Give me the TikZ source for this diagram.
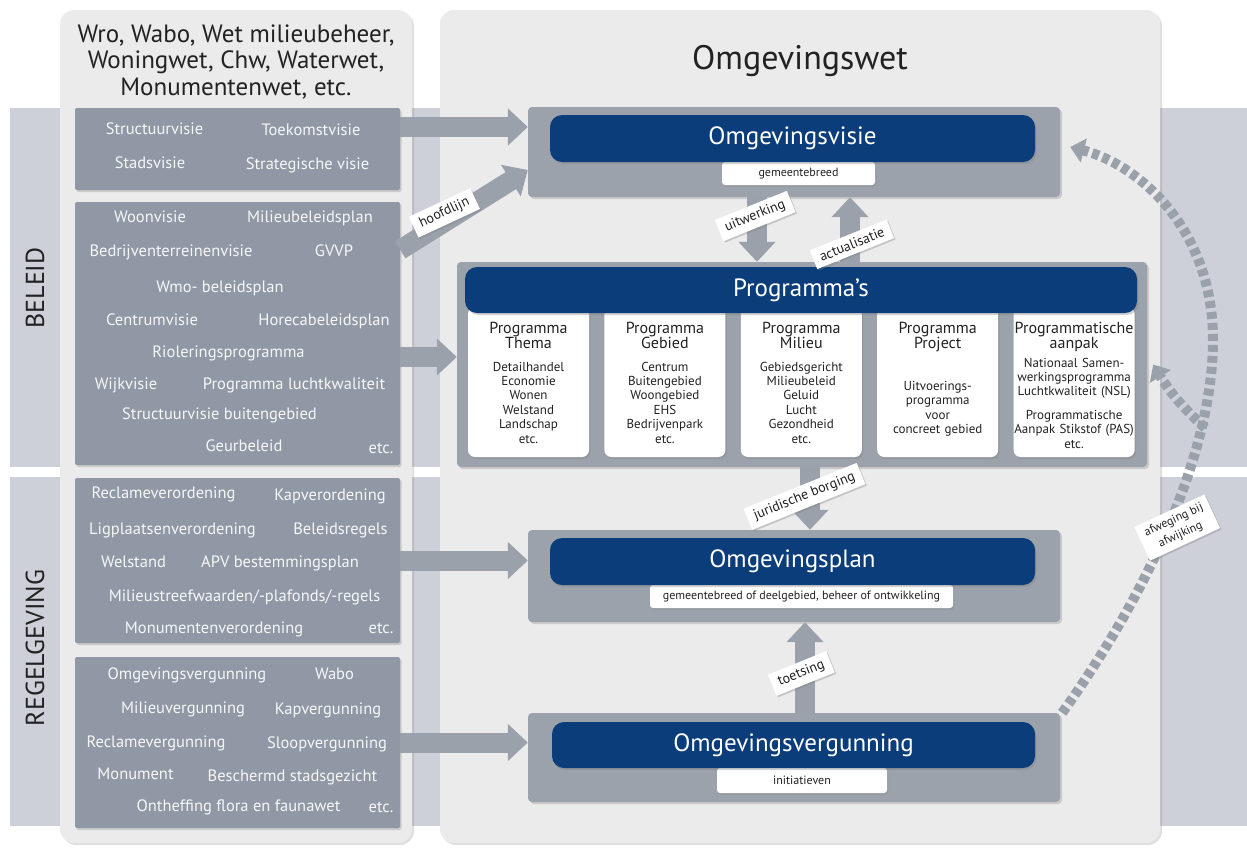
\documentclass[tikz,border=0pt]{standalone}
\usepackage{fontspec}
\setmainfont{PT Sans}
\usetikzlibrary{shapes.geometric, arrows.meta, positioning, shadows}
\definecolor{navy}{HTML}{0B3D7A}
\definecolor{blokgrijs}{HTML}{9BA2AC}
\definecolor{lijstgrijs}{HTML}{8F98A4}
\definecolor{paneelgrijs}{HTML}{EBEBEC}
\definecolor{bandgrijs}{HTML}{CDD0D8}
\definecolor{pijlgrijs}{HTML}{9AA1AA}
\definecolor{tekstgrijs}{HTML}{222222}
\tikzstyle{paneel} = [
    rectangle,
    rounded corners=14pt,
    fill=paneelgrijs,
    drop shadow={opacity=0.25, shadow xshift=2pt, shadow yshift=-2pt}
]
\tikzstyle{bandtekst} = [
    rotate=90,
    text=tekstgrijs,
    font=\fontsize{26}{30}\selectfont
]
\tikzstyle{titel} = [
    align=center,
    text=tekstgrijs,
    font=\fontsize{25}{26.5}\selectfont
]
\tikzstyle{lijst} = [
    rectangle,
    rounded corners=2pt,
    minimum width=325pt,
    fill=lijstgrijs,
    drop shadow={opacity=0.3, shadow xshift=1.5pt, shadow yshift=-2pt}
]
\tikzstyle{lijsttekst} = [
    inner sep=0pt,
    text height=12pt,
    text depth=3.5pt,
    text=white!92!lijstgrijs,
    font=\fontsize{16.5}{19}\selectfont
]
\tikzstyle{blok} = [
    rectangle,
    rounded corners=4pt,
    fill=blokgrijs,
    drop shadow={opacity=0.3, shadow xshift=2pt, shadow yshift=-2pt}
]
\tikzstyle{balk} = [
    rectangle,
    rounded corners=12pt,
    fill=navy,
    text=white,
    font=\fontsize{25}{29}\selectfont,
    drop shadow={opacity=0.35, shadow xshift=1.5pt, shadow yshift=-2pt}
]
\tikzstyle{etiket} = [
    rectangle,
    rounded corners=3pt,
    fill=white,
    inner sep=0pt,
    text=tekstgrijs,
    font=\fontsize{12}{14}\selectfont,
    drop shadow={opacity=0.3, shadow xshift=1pt, shadow yshift=-1.5pt}
]
\tikzstyle{kader} = [
    rectangle,
    rounded corners=7pt,
    fill=white,
    minimum width=121pt,
    minimum height=150pt,
    drop shadow={opacity=0.3, shadow xshift=1.5pt, shadow yshift=-2pt}
]
\tikzstyle{kop} = [
    align=center,
    inner sep=0pt,
    text=tekstgrijs,
    font=\fontsize{16}{15}\selectfont
]
\tikzstyle{items} = [
    align=center,
    inner sep=0pt,
    text width=120pt,
    text=tekstgrijs,
    font=\fontsize{13}{14.4}\selectfont
]
\tikzstyle{vlag} = [
    rectangle,
    fill=white,
    rotate=22,
    inner xsep=7pt,
    inner ysep=5pt,
    text=tekstgrijs,
    font=\fontsize{14}{16}\selectfont,
    drop shadow={opacity=0.35, shadow xshift=1.5pt, shadow yshift=-1.5pt}
]
\tikzstyle{pijl} = [line width=20pt, draw=pijlgrijs, -{Triangle[width=36pt,length=20pt]}]
\tikzstyle{streeppijl} = [line width=10pt, draw=pijlgrijs, dash pattern=on 7pt off 4pt, -{Triangle[width=24pt,length=14pt]}]

\begin{document}
\begin{tikzpicture}[x=1pt, y=-1pt]
\useasboundingbox (0,0) rectangle (1247,847);

% Banden
\fill [bandgrijs] (10,108) rectangle (1247,467);
\fill [bandgrijs] (10,477) rectangle (1247,826);

% Panelen
\node (wetten) [paneel, minimum width=352pt, minimum height=833pt] at (236,426.5) {};
\node (omgevingswet) [paneel, minimum width=720pt, minimum height=833pt] at (800,426.5) {};
\node (beleid) [bandtekst] at (35,288) {BELEID};
\node (regelgeving) [bandtekst] at (35,648) {REGELGEVING};
\node (wettitel) [titel] at (236,62) {Wro, Wabo, Wet milieubeheer,\\Woningwet, Chw, Waterwet,\\Monumentenwet, etc.};
\node (omgevingswettitel) [text=tekstgrijs, font=\fontsize{34}{40}\selectfont] at (800,61) {Omgevingswet};

% Lijsten links
\node (visies) [lijst, minimum height=82pt] at (237.5,149) {};
\node (beleidsplannen) [lijst, minimum height=263pt] at (237.5,333.5) {};
\node (verordeningen) [lijst, minimum height=165pt] at (237.5,560.5) {};
\node (vergunningen) [lijst, minimum height=171pt] at (237.5,742.5) {};

\node (structuurvisie) [lijsttekst] at (154.5,130) {Structuurvisie};
\node (toekomstvisie) [lijsttekst] at (311,131) {Toekomstvisie};
\node (stadsvisie) [lijsttekst] at (150,164) {Stadsvisie};
\node (strategisch) [lijsttekst] at (307.5,165) {Strategische visie};

\node (woonvisie) [lijsttekst] at (150,218) {Woonvisie};
\node (milieubeleid) [lijsttekst] at (310,218) {Milieubeleidsplan};
\node (bedrijventerrein) [lijsttekst] at (171,252) {Bedrijventerreinenvisie};
\node (gvvp) [lijsttekst] at (334,252) {GVVP};
\node (wmo) [lijsttekst] at (220,288) {Wmo- beleidsplan};
\node (centrumvisie) [lijsttekst] at (152,321) {Centrumvisie};
\node (horeca) [lijsttekst] at (324,321) {Horecabeleidsplan};
\node (riolering) [lijsttekst] at (228.5,353) {Rioleringsprogramma};
\node (wijkvisie) [lijsttekst] at (126,385) {Wijkvisie};
\node (luchtkwaliteit) [lijsttekst] at (294,385) {Programma luchtkwaliteit};
\node (buitengebied) [lijsttekst] at (219.5,415) {Structuurvisie buitengebied};
\node (geurbeleid) [lijsttekst] at (244,447) {Geurbeleid};
\node (etca) [lijsttekst] at (381,449) {etc.};

\node (reclameverordening) [lijsttekst] at (163.5,494) {Reclameverordening};
\node (kapverordening) [lijsttekst] at (330,496) {Kapverordening};
\node (ligplaats) [lijsttekst] at (172.5,530) {Ligplaatsenverordening};
\node (beleidsregels) [lijsttekst] at (340.5,530) {Beleidsregels};
\node (welstand) [lijsttekst] at (133.5,563) {Welstand};
\node (apv) [lijsttekst] at (280,563) {APV bestemmingsplan};
\node (streefwaarden) [lijsttekst] at (244.5,597) {Milieustreefwaarden/-plafonds/-regels};
\node (monumentenverordening) [lijsttekst] at (214,629) {Monumentenverordening};
\node (etcb) [lijsttekst] at (381,629) {etc.};

\node (omgvergunningtekst) [lijsttekst] at (187,675) {Omgevingsvergunning};
\node (wabo) [lijsttekst] at (334.5,675) {Wabo};
\node (milieuvergunning) [lijsttekst] at (183,709) {Milieuvergunning};
\node (kapvergunning) [lijsttekst] at (328,710) {Kapvergunning};
\node (reclamevergunning) [lijsttekst] at (156,743) {Reclamevergunning};
\node (sloopvergunning) [lijsttekst] at (327,744) {Sloopvergunning};
\node (monument) [lijsttekst] at (135.5,775) {Monument};
\node (stadsgezicht) [lijsttekst] at (292.5,777) {Beschermd stadsgezicht};
\node (ontheffing) [lijsttekst] at (238.5,807) {Ontheffing flora en faunawet};
\node (etcc) [lijsttekst] at (381,808) {etc.};

% Omgevingsvisie
\node (visieblok) [blok, minimum width=532pt, minimum height=90pt] at (794,152) {};
\node (visielabel) [etiket, minimum width=153pt, minimum height=23pt] at (798.5,173.5) {gemeentebreed};
\node (visiebalk) [balk, minimum width=485pt, minimum height=47pt] at (792.5,138.5) {Omgevingsvisie};

% Programma's
\node (programmablok) [blok, minimum width=690pt, minimum height=205pt] at (802,364.5) {};
\node (thema) [kader] at (528.5,382) {};
\node (gebied) [kader, right=15pt of thema] {};
\node (milieu) [kader, right=15pt of gebied] {};
\node (project) [kader, right=15pt of milieu] {};
\node (aanpak) [kader, right=15pt of project] {};
\node (programmabalk) [balk, minimum width=672pt, minimum height=46pt] at (801,290) {Programma's};

\node (themakop) [kop, below=15pt of thema.north] {Programma\\Thema};
\node (themalijst) [items, below=13pt of themakop] {Detailhandel\\Economie\\Wonen\\Welstand\\Landschap\\etc.};
\node (gebiedkop) [kop, below=15pt of gebied.north] {Programma\\Gebied};
\node (gebiedlijst) [items, below=13pt of gebiedkop] {Centrum\\Buitengebied\\Woongebied\\EHS\\Bedrijvenpark\\etc.};
\node (milieukop) [kop, below=15pt of milieu.north] {Programma\\Milieu};
\node (milieulijst) [items, below=13pt of milieukop] {Gebiedsgericht\\Milieubeleid\\Geluid\\Lucht\\Gezondheid\\etc.};
\node (projectkop) [kop, below=15pt of project.north] {Programma\\Project};
\node (projectlijst) [items, below=29pt of projectkop] {Uitvoerings-\\programma\\voor\\concreet gebied};
\node (aanpakkop) [kop, below=15pt of aanpak.north] {Programmatische\\aanpak};
\node (aanpaklijst) [items, below=6pt of aanpakkop] {Nationaal Samen-\\werkingsprogramma\\Luchtkwaliteit (NSL)\\[9pt]Programmatische\\Aanpak Stikstof (PAS)\\etc.};

% Omgevingsplan
\node (planblok) [blok, minimum width=532pt, minimum height=92pt] at (794,576) {};
\node (planlabel) [etiket, minimum width=303pt, minimum height=23pt] at (801.5,596.5) {gemeentebreed of deelgebied, beheer of ontwikkeling};
\node (planbalk) [balk, minimum width=485pt, minimum height=47pt] at (792.5,561.5) {Omgevingsplan};

% Omgevingsvergunning
\node (vergunningblok) [blok, minimum width=532pt, minimum height=89pt] at (794,757.5) {};
\node (vergunninglabel) [etiket, minimum width=170pt, minimum height=25pt] at (802,780.5) {initiatieven};
\node (vergunningbalk) [balk, minimum width=483pt, minimum height=46pt] at (793.5,745) {Omgevingsvergunning};

% Pijlen
\draw [pijl] ([yshift=22pt]visies.east) -- ([yshift=22pt]visies.east -| visieblok.west);
\draw [pijl] ([yshift=-48pt]beleidsplannen.north east) -- node[vlag, pos=0.37, yshift=8pt, rotate=3] {hoofdlijn} ([yshift=-18pt]visieblok.west);
\draw [pijl] ([yshift=-23.5pt]beleidsplannen.east) -- ([yshift=-23.5pt]beleidsplannen.east -| programmablok.west);
\draw [pijl] (verordeningen.east) -- (verordeningen.east -| planblok.west);
\draw [pijl] (vergunningen.east) -- (vergunningen.east -| vergunningblok.west);
\draw [pijl] ([xshift=-37pt]visieblok.south) -- node[vlag, pos=0.28, xshift=-2pt] {uitwerking} ([xshift=-37pt]visieblok.south |- programmablok.north);
\draw [pijl] ([xshift=56pt]visieblok.south |- programmablok.north) -- node[vlag, pos=0.26, xshift=2pt] {actualisatie} ([xshift=56pt]visieblok.south);
\draw [pijl] ([xshift=8pt]programmablok.south) -- node[vlag, pos=0.43, xshift=-6pt] {juridische borging} ([xshift=8pt]programmablok.south |- planblok.north);
\draw [pijl] ([xshift=11pt]vergunningblok.north) -- node[vlag, pos=0.45, xshift=-4pt] {toetsing} ([xshift=11pt]vergunningblok.north |- planblok.south);

% Afweging bij afwijking
\coordinate (splitsing) at (1205,428);
\draw [streeppijl] ([xshift=2pt]vergunningblok.north east) .. controls (1150,590) and (1213,450) .. node[vlag, pos=0.5, xshift=4pt, yshift=-8pt, rotate=3, align=center, font=\fontsize{12}{16}\selectfont] {afweging bij\\afwijking} (1213,340) .. controls (1213,230) and (1140,165) .. ([xshift=10pt, yshift=5pt]visieblok.east);
\draw [streeppijl] (splitsing) to[bend left=8] ([xshift=6pt]programmablok.east);

\end{tikzpicture}
\end{document}
